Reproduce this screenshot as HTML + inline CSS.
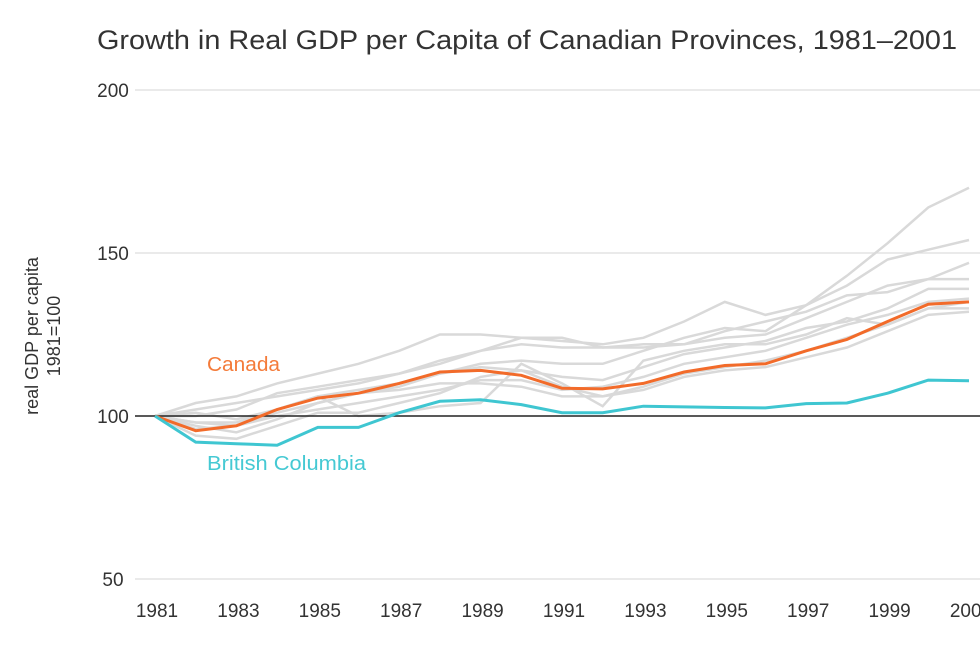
<!DOCTYPE html>
<html><head><meta charset="utf-8"><style>
body{margin:0;background:#fff;font-family:"Liberation Sans",sans-serif}
svg text{font-family:"Liberation Sans",sans-serif;fill:#333}
</style></head><body>
<svg id="chart" width="980" height="642" viewBox="0 0 980 642" xmlns="http://www.w3.org/2000/svg">
<text x="97" y="49" font-size="27" textLength="860" lengthAdjust="spacingAndGlyphs">Growth in Real GDP per Capita of Canadian Provinces, 1981–2001</text>
<g id="grid"></g><g id="lines"></g><g id="xt"></g>
<text transform="translate(38,336) rotate(-90)" text-anchor="middle" font-size="18">real GDP per capita</text>
<text transform="translate(60,336) rotate(-90)" text-anchor="middle" font-size="18">1981=100</text>
<text x="207" y="371" font-size="20" textLength="73" lengthAdjust="spacingAndGlyphs" style="fill:#f47b3a">Canada</text>
<text x="207" y="470" font-size="20" textLength="159" lengthAdjust="spacingAndGlyphs" style="fill:#45c9d3">British Columbia</text>
</svg>
<script>
const years=[1981,1982,1983,1984,1985,1986,1987,1988,1989,1990,1991,1992,1993,1994,1995,1996,1997,1998,1999,2000,2001];
const yTicks=[50,100,150,200];
const xTickLabels=[1981,1983,1985,1987,1989,1991,1993,1995,1997,1999,2001];
const canada=[100,95.5,97,102,105.5,107,110,113.5,114,112.5,108.5,108.3,110,113.5,115.5,116,120,123.5,129,134.3,135];
const bc=[100,92,91.5,91,96.5,96.5,101,104.5,105,103.5,101,101,103,102.8,102.6,102.5,103.8,104,107,111,110.8];
const provA=[100,98,97,101,104,107,109,113,116,117,116,116,120,124,127,126,134,143,153,164,170];
const provB=[100,104,106,110,113,116,120,125,125,124,123,122,124,129,135,131,134,140,148,151,154];
const provC=[100,100,102,107,109,111,113,117,120,124,124,121,122,122,124,125,130,135,140,142,147];
const provD=[100,102,104,106,108,110,113,116,120,122,121,121,121,122,126,129,132,137,138,142,142];
const provE=[100,101,99,102,106,108,110,113,115,114,112,111,115,119,121,123,127,129,133,139,139];
const provF=[100,97,95,99,104,107,108,110,110,109,106,106,109,113,115,117,120,124,128,133,133];
const provG=[100,94,93,97,101,101,104,107,112,114,109,106,108,112,114,115,118,121,126,131,132];
const provH=[100,98,98,102,106,100,101,103,104,116,110,103,117,120,122,122,125,130,128,133,135];
const provI=[100,96,97,100,102,104,106,108,111,111,108,109,112,116,118,120,124,128,131,135,136];
const NS="http://www.w3.org/2000/svg";
const X=y=>155+(y-1981)*40.7;
const Y=v=>416-(v-100)*3.26;
const g=document.getElementById('grid'),L=document.getElementById('lines'),xt=document.getElementById('xt');
function mk(t,a,p){const e=document.createElementNS(NS,t);for(const k in a)e.setAttribute(k,a[k]);p.appendChild(e);return e;}
yTicks.forEach(v=>{
 if(v!==100){const l=mk('line',{x1:135,x2:980,y1:Y(v),y2:Y(v),stroke:'#ddd','stroke-width':1.2},g);
 
 }
 const t=mk('text',{x:113,y:Y(v)+7,'text-anchor':'middle','font-size':19},g);t.textContent=v;
 
 
});
xTickLabels.forEach(y=>{const t=mk('text',{x:X(y)+2,y:617,'text-anchor':'middle','font-size':19},xt);t.textContent=y;
 
 });
function path(arr){return arr.map((v,i)=>(i?'L':'M')+X(years[i]).toFixed(1)+' '+Y(v).toFixed(1)).join(' ');}
[provA,provB,provC,provD,provE,provF,provG,provH,provI].forEach((s,i)=>{
 const p=mk('path',{d:path(s),fill:'none',stroke:'#d9d9d9','stroke-width':2.5},L);
 
 
});
const base=mk('line',{x1:135,x2:980,y1:Y(100),y2:Y(100),stroke:'#222','stroke-width':1.5},L);


const c=mk('path',{d:path(canada),fill:'none',stroke:'#f26b2a','stroke-width':3},L);


const b=mk('path',{d:path(bc),fill:'none',stroke:'#3fc6d1','stroke-width':3},L);


</script>
</body></html>
